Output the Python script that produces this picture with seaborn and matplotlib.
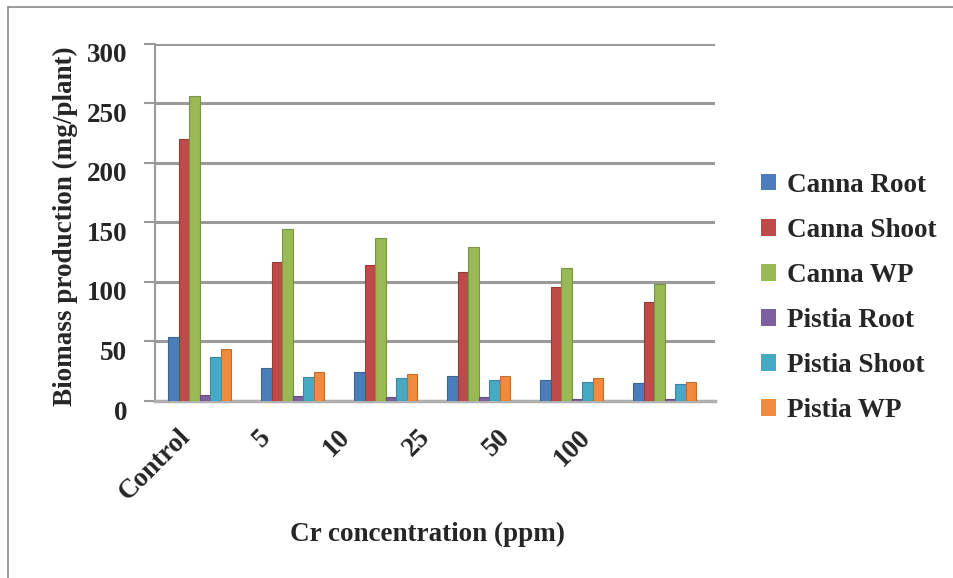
import matplotlib
matplotlib.use("Agg")
import matplotlib.pyplot as plt
from matplotlib.lines import Line2D
from matplotlib.patches import Patch
from matplotlib.transforms import ScaledTranslation
import seaborn as sns
import pandas as pd

categories = ["Control", "5", "10", "25", "50", "100"]
series_names = ["Canna Root", "Canna Shoot", "Canna WP", "Pistia Root", "Pistia Shoot", "Pistia WP"]
canna_root = [54, 28, 24, 21, 18, 15]
canna_shoot = [220, 117, 114, 108, 96, 83]
canna_wp = [256, 144, 137, 129, 112, 98]
pistia_root = [5, 4, 3, 3, 2, 2]
pistia_shoot = [37, 20, 19, 18, 16, 14]
pistia_wp = [44, 24, 23, 21, 19, 16]
colors = ["#4A7EBB", "#BE4B48", "#98B954", "#7D60A0", "#46AAC5", "#F08A3C"]
yticks = [0, 50, 100, 150, 200, 250, 300]

values = [canna_root, canna_shoot, canna_wp, pistia_root, pistia_shoot, pistia_wp]
rows = []
for name, vals in zip(series_names, values):
    for c, v in zip(categories, vals):
        rows.append({"conc": c, "series": name, "value": v})
df = pd.DataFrame(rows)

sns.set_theme(style="white")
plt.rcParams["font.family"] = ["Liberation Serif", "DejaVu Serif"]
plt.rcParams["font.weight"] = "bold"
FS = 19.5

fig = plt.figure(figsize=(9.54, 5.78), dpi=100)
ax = fig.add_axes([155 / 954, 1 - 401 / 578, (715 - 155) / 954, (401 - 43.5) / 578])

sns.barplot(data=df, x="conc", y="value", hue="series", order=categories,
            hue_order=series_names, palette=colors, width=0.68, ax=ax,
            legend=False, saturation=1, zorder=3)
for p in ax.patches:
    fc = p.get_facecolor()
    p.set_edgecolor(tuple(max(0, c * 0.8) for c in fc[:3]))
    p.set_linewidth(0.8)

ax.set_ylim(0, 300)
ax.set_xlim(-0.48, 5.54)
ax.set_yticks(yticks)
ax.set_yticklabels([str(t) for t in yticks], fontsize=FS, fontweight="bold")
ax.set_xticks(range(len(categories)))
ax.set_xticklabels(categories, fontsize=FS, fontweight="bold", rotation=45,
                   ha="right", va="top", rotation_mode="anchor")
ax.tick_params(axis="y", length=8, width=1.5, color="#9a9a9a", pad=12, left=True)
ax.tick_params(axis="x", length=0, pad=14)
ax.grid(axis="y", color="#9a9a9a", linewidth=2.2, zorder=0)
ax.set_axisbelow(True)
for s in ["top", "right"]:
    ax.spines[s].set_visible(False)
ax.spines["left"].set_color("#9a9a9a")
ax.spines["left"].set_linewidth(1.5)
ax.spines["bottom"].set_color("#b0b0b0")
ax.spines["bottom"].set_linewidth(2.5)

# perspective-like shift of category labels (as in the reference)
for i, lbl in enumerate(ax.get_xticklabels()):
    dx = (-22 - 13 * i) / 100
    lbl.set_transform(lbl.get_transform() + ScaledTranslation(dx, -4 / 100, fig.dpi_scale_trans))
off_y = ScaledTranslation(0, -9 / 100, fig.dpi_scale_trans)
for lbl in ax.get_yticklabels():
    lbl.set_transform(lbl.get_transform() + off_y)

ax.set_xlabel("Cr concentration (ppm)", fontsize=FS, fontweight="bold")
ax.xaxis.set_label_coords((428 - 155) / 560, (401 - 522) / 357.5)
ax.set_ylabel("Biomass production (mg/plant)", fontsize=FS, fontweight="bold")
ax.yaxis.set_label_coords((78 - 155) / 560, 0.49)

handles = [Patch(facecolor=c, edgecolor="none") for c in colors]
fig.legend(handles, series_names, loc="center left", bbox_to_anchor=(737 / 954, 1 - 298 / 578),
           frameon=False, prop={"family": "Liberation Serif", "weight": "bold", "size": FS},
           handlelength=0.55, handleheight=0.55, handletextpad=0.4, labelspacing=0.74)

fig.add_artist(Line2D([8 / 954, 1], [1 - 7 / 578, 1 - 7 / 578], color="#8a8a8a", linewidth=1.2,
                      transform=fig.transFigure))
fig.add_artist(Line2D([8 / 954, 8 / 954], [0, 1 - 7 / 578], color="#8a8a8a", linewidth=1.2,
                      transform=fig.transFigure))

fig.savefig("out.png", dpi=100, facecolor="white")
